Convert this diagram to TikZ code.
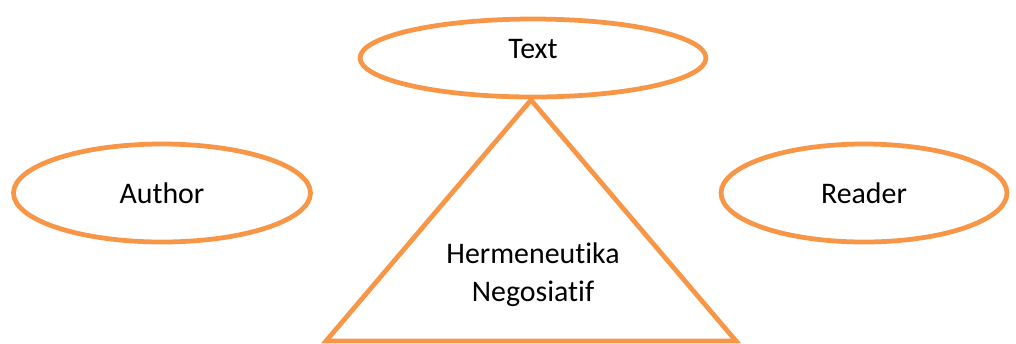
\documentclass[tikz,border=0pt]{standalone}
\usepackage{fontspec}
\setmainfont{Carlito}[Ligatures=NoCommon]
\usetikzlibrary{shapes.geometric}
\definecolor{hermorange}{RGB}{247,150,70}
\begin{document}
\begin{tikzpicture}[x=0.02cm, y=-0.02cm, line width=2.7pt]
    \tikzstyle{ell}=[draw=hermorange, ellipse, inner sep=0pt, font=\fontsize{17}{21.5}\selectfont]
    \useasboundingbox (0,0) rectangle (1016,343);

    \node[ell, minimum width=6.92cm, minimum height=1.56cm, text depth=0.36cm] (text) at (533,58) {Text};
    \node[ell, minimum width=5.94cm, minimum height=1.96cm] (author) at (162,193) {Author};
    \node[ell, minimum width=5.72cm, minimum height=1.96cm] (reader) at (864,193) {Reader};

    \coordinate (apex) at (531,100);
    \coordinate (baseL) at (326,341);
    \coordinate (baseR) at (736,341);
    \draw[hermorange, line join=miter] (apex) -- (baseR) -- (baseL) -- cycle;

    \node[align=center, font=\fontsize{17}{21.5}\selectfont] (herm) at (533,275) {Hermeneutika\\ Negosiatif};
  \end{tikzpicture}
\end{document}
